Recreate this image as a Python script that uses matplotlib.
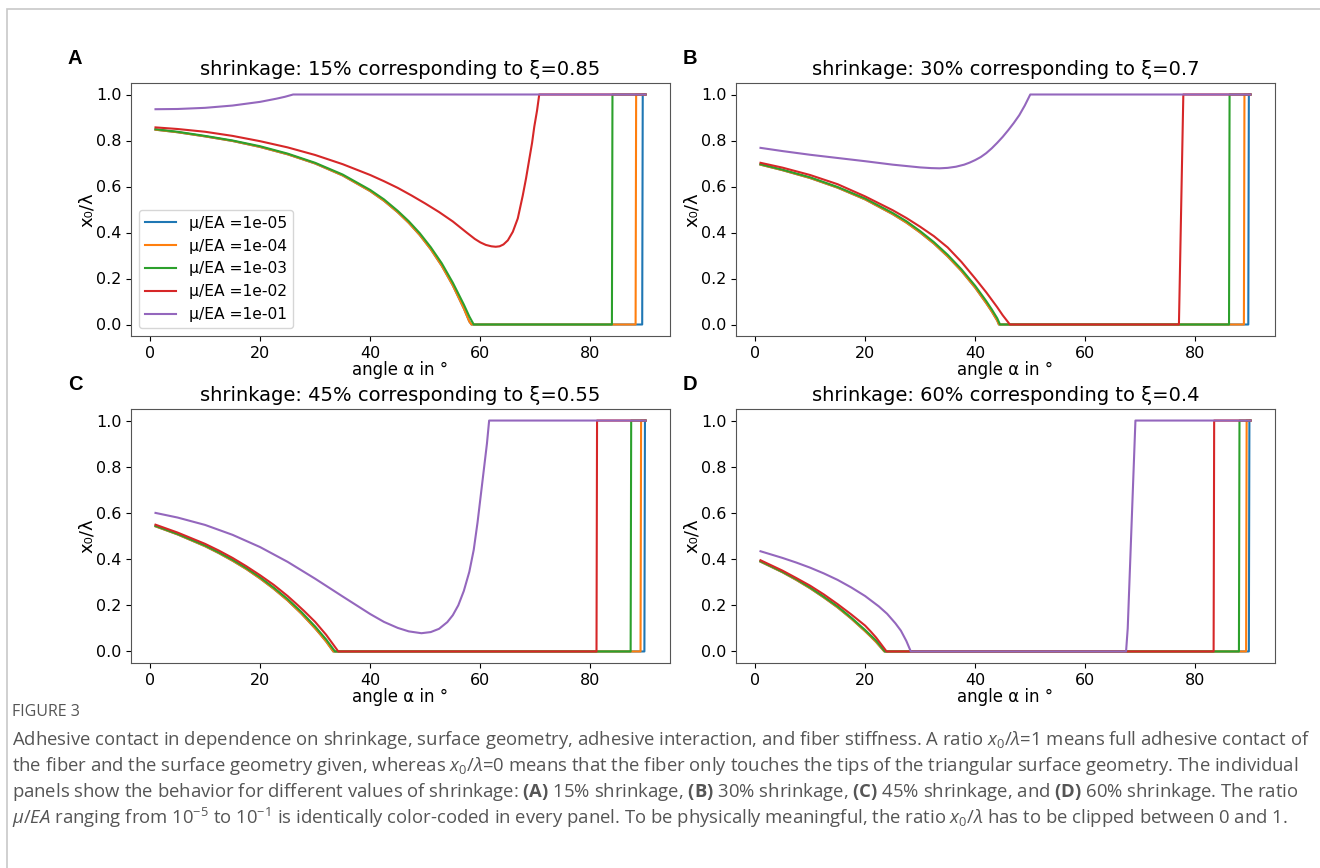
import matplotlib
matplotlib.use('Agg')
import matplotlib.pyplot as plt
from matplotlib.patches import Rectangle

# mu/EA values and the series colours (matplotlib default cycle)
ratios = ['1e-05', '1e-04', '1e-03', '1e-02', '1e-01']
colors = ['#1f77b4', '#ff7f0e', '#2ca02c', '#d62728', '#9467bd']

shrink = [15, 30, 45, 60]
xi = ['0.85', '0.7', '0.55', '0.4']
letters = ['A', 'B', 'C', 'D']

# panel A (15% shrinkage)
A_ang_1e5 = [1, 5, 10, 15, 20, 25, 30, 35, 40, 42.5, 45, 47, 49, 51, 53, 55, 57, 58, 58.4, 89.4, 89.5, 90]
A_x0_1e5 = [0.847, 0.836, 0.818, 0.798, 0.772, 0.740, 0.700, 0.648, 0.580, 0.538, 0.488, 0.442, 0.389, 0.327, 0.255, 0.170, 0.070, 0.013, 0.0, 0.0, 1.0, 1.0]
A_ang_1e4 = [1, 5, 10, 15, 20, 25, 30, 35, 40, 42.5, 45, 47, 49, 51, 53, 55, 57, 58, 58.4, 88.2, 88.3, 90]
A_x0_1e4 = [0.847, 0.836, 0.818, 0.798, 0.772, 0.740, 0.700, 0.648, 0.580, 0.538, 0.488, 0.442, 0.389, 0.327, 0.255, 0.170, 0.070, 0.013, 0.0, 0.0, 1.0, 1.0]
A_ang_1e3 = [1, 5, 10, 15, 20, 25, 30, 35, 40, 42.5, 45, 47, 49, 51, 53, 55, 57, 58, 58.8, 83.9, 84.0, 90]
A_x0_1e3 = [0.849, 0.838, 0.820, 0.800, 0.775, 0.743, 0.703, 0.652, 0.585, 0.544, 0.494, 0.449, 0.397, 0.336, 0.266, 0.182, 0.087, 0.035, 0.0, 0.0, 1.0, 1.0]
A_ang_1e2 = [1, 5, 10, 15, 20, 25, 30, 35, 40, 42.5, 45, 47.5, 50, 52.5, 55, 57.5, 59, 60, 61, 62, 62.8, 63.5, 64.2, 65, 65.9, 66.8, 67.7, 68.3, 68.9, 69.4, 69.8, 70.3, 70.7, 90]
A_x0_1e2 = [0.857, 0.850, 0.838, 0.820, 0.797, 0.770, 0.737, 0.697, 0.650, 0.623, 0.594, 0.561, 0.526, 0.489, 0.448, 0.400, 0.372, 0.357, 0.346, 0.340, 0.338, 0.340, 0.348, 0.366, 0.403, 0.461, 0.560, 0.635, 0.720, 0.790, 0.860, 0.930, 1.0, 1.0]
A_ang_1e1 = [1, 5, 10, 15, 20, 23, 24.5, 26, 90]
A_x0_1e1 = [0.936, 0.937, 0.942, 0.952, 0.968, 0.982, 0.990, 1.0, 1.0]

# panel B (30% shrinkage)
B_ang_1e5 = [1, 5, 10, 15, 20, 25, 27.5, 30, 32.5, 35, 37.5, 40, 42, 43, 44, 44.3, 89.6, 89.7, 90]
B_x0_1e5 = [0.695, 0.671, 0.637, 0.595, 0.544, 0.480, 0.443, 0.400, 0.352, 0.296, 0.233, 0.160, 0.093, 0.057, 0.017, 0.0, 0.0, 1.0, 1.0]
B_ang_1e4 = [1, 5, 10, 15, 20, 25, 27.5, 30, 32.5, 35, 37.5, 40, 42, 43, 44, 44.3, 88.8, 88.9, 90]
B_x0_1e4 = [0.695, 0.671, 0.637, 0.595, 0.544, 0.480, 0.443, 0.400, 0.352, 0.296, 0.233, 0.160, 0.093, 0.057, 0.017, 0.0, 0.0, 1.0, 1.0]
B_ang_1e3 = [1, 5, 10, 15, 20, 25, 27.5, 30, 32.5, 35, 37.5, 40, 42, 43, 44, 44.5, 86.1, 86.2, 90]
B_x0_1e3 = [0.697, 0.673, 0.640, 0.598, 0.548, 0.485, 0.449, 0.406, 0.358, 0.303, 0.240, 0.168, 0.102, 0.066, 0.027, 0.0, 0.0, 1.0, 1.0]
B_ang_1e2 = [1, 5, 10, 15, 20, 25, 27.5, 30, 32.5, 35, 37.5, 40, 42, 44, 45, 46.3, 77.0, 77.8, 90]
B_x0_1e2 = [0.703, 0.682, 0.650, 0.610, 0.557, 0.497, 0.463, 0.425, 0.384, 0.335, 0.272, 0.200, 0.140, 0.075, 0.040, 0.0, 0.0, 1.0, 1.0]
B_ang_1e1 = [1, 5, 10, 15, 20, 25, 30, 32, 33.5, 35, 36.5, 38, 39, 40, 41, 42, 43, 44, 45, 46, 47, 48, 49, 50, 90]
B_x0_1e1 = [0.768, 0.754, 0.738, 0.724, 0.710, 0.695, 0.683, 0.680, 0.679, 0.681, 0.686, 0.695, 0.704, 0.715, 0.728, 0.745, 0.766, 0.790, 0.816, 0.845, 0.876, 0.910, 0.952, 1.0, 1.0]

# panel C (45% shrinkage)
C_ang_1e5 = [1, 5, 10, 12.5, 15, 17.5, 20, 22.5, 25, 27.5, 30, 31, 32, 33.3, 89.8, 89.9, 90]
C_x0_1e5 = [0.542, 0.507, 0.456, 0.426, 0.393, 0.357, 0.316, 0.271, 0.221, 0.164, 0.100, 0.072, 0.043, 0.0, 0.0, 1.0, 1.0]
C_ang_1e4 = [1, 5, 10, 12.5, 15, 17.5, 20, 22.5, 25, 27.5, 30, 31, 32, 33.3, 89.1, 89.2, 90]
C_x0_1e4 = [0.542, 0.507, 0.456, 0.426, 0.393, 0.357, 0.316, 0.271, 0.221, 0.164, 0.100, 0.072, 0.043, 0.0, 0.0, 1.0, 1.0]
C_ang_1e3 = [1, 5, 10, 12.5, 15, 17.5, 20, 22.5, 25, 27.5, 30, 31, 32, 33.6, 87.3, 87.4, 90]
C_x0_1e3 = [0.544, 0.509, 0.459, 0.429, 0.397, 0.361, 0.321, 0.276, 0.227, 0.171, 0.108, 0.080, 0.052, 0.0, 0.0, 1.0, 1.0]
C_ang_1e2 = [1, 5, 10, 12.5, 15, 17.5, 20, 22.5, 25, 26.5, 28, 30, 32, 34.2, 81.1, 81.2, 90]
C_x0_1e2 = [0.549, 0.515, 0.466, 0.437, 0.405, 0.369, 0.330, 0.288, 0.240, 0.208, 0.175, 0.128, 0.072, 0.0, 0.0, 1.0, 1.0]
C_ang_1e1 = [1, 5, 10, 15, 20, 25, 30, 35, 37.5, 40, 42.5, 45, 47, 49.3, 51, 52.5, 54, 55, 56, 57, 58, 58.8, 59.5, 60.1, 60.7, 61.2, 61.6, 90]
C_x0_1e1 = [0.600, 0.580, 0.548, 0.505, 0.452, 0.388, 0.315, 0.238, 0.200, 0.162, 0.128, 0.102, 0.087, 0.079, 0.084, 0.098, 0.127, 0.157, 0.200, 0.262, 0.345, 0.440, 0.560, 0.680, 0.800, 0.900, 1.0, 1.0]

# panel D (60% shrinkage)
D_ang_1e5 = [1, 5, 7.5, 10, 12.5, 15, 17.5, 20, 21, 22, 23.5, 89.7, 89.8, 90]
D_x0_1e5 = [0.389, 0.343, 0.310, 0.274, 0.234, 0.191, 0.142, 0.088, 0.065, 0.041, 0.0, 0.0, 1.0, 1.0]
D_ang_1e4 = [1, 5, 7.5, 10, 12.5, 15, 17.5, 20, 21, 22, 23.5, 89.2, 89.3, 90]
D_x0_1e4 = [0.389, 0.343, 0.310, 0.274, 0.234, 0.191, 0.142, 0.088, 0.065, 0.041, 0.0, 0.0, 1.0, 1.0]
D_ang_1e3 = [1, 5, 7.5, 10, 12.5, 15, 17.5, 20, 21, 22, 23.6, 87.9, 88.0, 90]
D_x0_1e3 = [0.391, 0.345, 0.313, 0.277, 0.237, 0.195, 0.146, 0.093, 0.070, 0.047, 0.0, 0.0, 1.0, 1.0]
D_ang_1e2 = [1, 5, 7.5, 10, 12.5, 15, 17.5, 20, 21, 22, 23.9, 83.3, 83.4, 90]
D_x0_1e2 = [0.395, 0.350, 0.318, 0.285, 0.247, 0.205, 0.160, 0.112, 0.087, 0.060, 0.0, 0.0, 1.0, 1.0]
D_ang_1e1 = [1, 5, 7.5, 10, 12.5, 15, 17.5, 20, 22.5, 24, 25.5, 26.5, 27.5, 28.3, 67.4, 67.7, 69.1, 90]
D_x0_1e1 = [0.434, 0.405, 0.385, 0.363, 0.338, 0.310, 0.277, 0.240, 0.195, 0.163, 0.122, 0.090, 0.045, 0.0, 0.0, 0.100, 1.0, 1.0]

panels = [
    [(A_ang_1e5, A_x0_1e5), (A_ang_1e4, A_x0_1e4), (A_ang_1e3, A_x0_1e3), (A_ang_1e2, A_x0_1e2), (A_ang_1e1, A_x0_1e1)],
    [(B_ang_1e5, B_x0_1e5), (B_ang_1e4, B_x0_1e4), (B_ang_1e3, B_x0_1e3), (B_ang_1e2, B_x0_1e2), (B_ang_1e1, B_x0_1e1)],
    [(C_ang_1e5, C_x0_1e5), (C_ang_1e4, C_x0_1e4), (C_ang_1e3, C_x0_1e3), (C_ang_1e2, C_x0_1e2), (C_ang_1e1, C_x0_1e1)],
    [(D_ang_1e5, D_x0_1e5), (D_ang_1e4, D_x0_1e4), (D_ang_1e3, D_x0_1e3), (D_ang_1e2, D_x0_1e2), (D_ang_1e1, D_x0_1e1)],
]

caption_lines = [
    r'Adhesive contact in dependence on shrinkage, surface geometry, adhesive interaction, and fiber stiffness. A ratio $x_0/\lambda$=1 means full adhesive contact of',
    r'the fiber and the surface geometry given, whereas $x_0/\lambda$=0 means that the fiber only touches the tips of the triangular surface geometry. The individual',
    r'panels show the behavior for different values of shrinkage: $\mathbf{(A)}$ 15% shrinkage, $\mathbf{(B)}$ 30% shrinkage, $\mathbf{(C)}$ 45% shrinkage, and $\mathbf{(D)}$ 60% shrinkage. The ratio',
    r'$\mu/EA$ ranging from 10$^{-5}$ to 10$^{-1}$ is identically color-coded in every panel. To be physically meaningful, the ratio $x_0/\lambda$ has to be clipped between 0 and 1.',
]

plt.rcParams['font.size'] = 12
plt.rcParams['mathtext.fontset'] = 'custom'
plt.rcParams['mathtext.rm'] = 'Open Sans'
plt.rcParams['mathtext.it'] = 'Open Sans:italic'
plt.rcParams['mathtext.bf'] = 'Open Sans:bold'
plt.rcParams['mathtext.fallback'] = 'stixsans'

fig = plt.figure(figsize=(13.2, 8.68), dpi=100)
W, H = 1320, 868

# axes boxes in pixels: left, top, right, bottom
boxes = [(131, 83, 670, 336), (736, 83, 1275, 336), (131, 409, 670, 663), (736, 409, 1275, 663)]
letter_pos = [(68, 59), (683, 59), (68, 384), (683, 384)]

for i, (l, t, r, b) in enumerate(boxes):
    ax = fig.add_axes([l / W, 1 - b / H, (r - l) / W, (b - t) / H])
    for j, (ang, x0) in enumerate(panels[i]):
        ax.plot(ang, x0, color=colors[j], lw=1.5, label=f'\u03bc/EA ={ratios[j]}')
    ax.set_title(f'shrinkage: {shrink[i]}% corresponding to \u03be={xi[i]}', fontsize=14)
    ax.set_xlabel('angle \u03b1 in \u00b0', fontsize=12, labelpad=0)
    ax.set_ylabel('x\u2080/\u03bb', fontsize=13, labelpad=0)
    ax.set_xticks([0, 20, 40, 60, 80])
    ax.set_yticks([0.0, 0.2, 0.4, 0.6, 0.8, 1.0])
    ax.tick_params(labelsize=11.5)
    for s in ax.spines.values():
        s.set_color('#555555')
    if i == 0:
        ax.legend(loc='lower left', fontsize=11.2)
    fig.text(letter_pos[i][0] / W, 1 - letter_pos[i][1] / H, letters[i],
             family='Liberation Sans', weight='bold', fontsize=14.5, va='center', ha='left')

# light frame around the figure block
fig.patches.append(Rectangle((7 / W, -0.1), 1.2, 1 - 9 / H + 0.1, transform=fig.transFigure,
                             fill=False, edgecolor='#c8c8c8', lw=1.2))

fig.text(12 / W, 1 - 712 / H, 'FIGURE 3', family='Open Sans', fontsize=11.5, color='#555555', va='center')
for k, line in enumerate(caption_lines):
    fig.text(12 / W, 1 - (740 + 26 * k) / H, line, family='Open Sans', fontsize=13.3,
             color='#555555', va='center')

fig.savefig('out.png', dpi=100)
